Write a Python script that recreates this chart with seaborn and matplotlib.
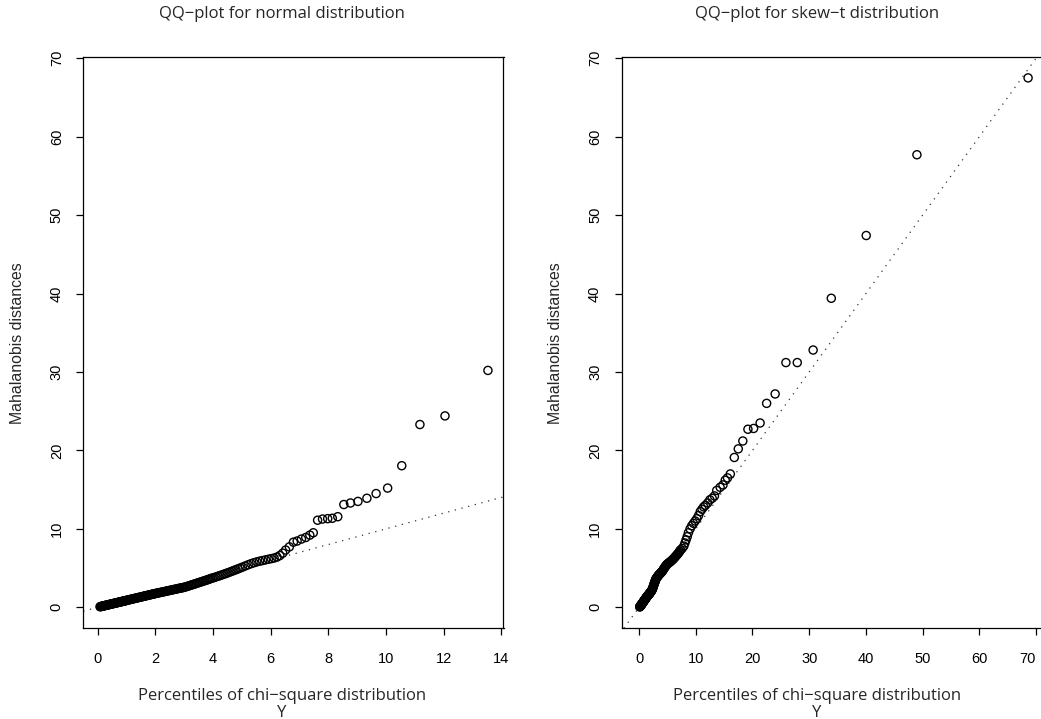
import matplotlib
matplotlib.use("Agg")
import matplotlib.pyplot as plt
import seaborn as sns
import pandas as pd

# ---------------- data ----------------
normal_x = [0.08,0.10,0.12,0.14,0.16,0.18,0.20,0.22,0.24,0.26,0.28,0.30,0.32,0.34,0.36,0.38,0.40,0.42,0.44,0.46,
            0.48,0.50,0.52,0.54,0.56,0.58,0.60,0.62,0.64,0.66,0.68,0.70,0.72,0.74,0.76,0.78,0.80,0.82,0.84,0.86,
            0.88,0.90,0.92,0.94,0.96,0.98,
            1.00,1.03,1.06,1.09,1.12,1.15,1.18,1.21,1.24,1.27,1.30,1.33,1.36,1.39,1.42,1.45,1.48,1.51,1.54,1.57,
            1.60,1.63,1.66,1.69,1.72,1.75,1.78,1.81,1.84,1.87,1.90,1.93,1.96,1.99,
            2.02,2.06,2.10,2.14,2.18,2.22,2.26,2.30,2.34,2.38,2.42,2.46,2.50,2.54,2.58,2.62,2.66,2.70,2.74,2.78,
            2.82,2.86,2.90,2.94,2.98,
            3.02,3.07,3.12,3.17,3.22,3.27,3.32,3.37,3.42,3.47,3.52,3.57,3.62,3.67,3.72,3.77,3.82,3.87,3.92,3.97,
            4.03,4.10,4.17,4.24,4.31,4.38,4.45,4.52,4.59,4.66,4.73,4.80,4.87,4.94,
            5.02,5.12,5.22,5.32,5.42,5.52,5.62,5.72,5.82,5.92,6.02,6.12,6.22,6.32,6.42,6.52,
            6.65,6.79,6.92,7.07,7.22,7.36,7.48,7.63,7.80,7.98,8.14,8.33,8.54,8.77,9.03,9.34,9.66,10.06,10.55,
            11.18,12.05,13.54]
normal_y = [0.07,0.09,0.10,0.12,0.14,0.16,0.18,0.19,0.21,0.23,0.25,0.26,0.28,0.30,0.32,0.33,0.35,0.37,0.39,0.40,
            0.42,0.44,0.46,0.47,0.49,0.51,0.53,0.54,0.56,0.58,0.60,0.61,0.63,0.65,0.67,0.68,0.70,0.72,0.74,0.75,
            0.77,0.79,0.81,0.82,0.84,0.86,
            0.88,0.91,0.93,0.96,0.99,1.01,1.04,1.06,1.09,1.12,1.14,1.17,1.20,1.22,1.25,1.27,1.30,1.33,1.35,1.38,
            1.41,1.43,1.46,1.48,1.51,1.54,1.56,1.59,1.62,1.64,1.67,1.69,1.72,1.75,
            1.77,1.80,1.83,1.86,1.90,1.93,1.96,1.99,2.02,2.06,2.09,2.12,2.15,2.18,2.22,2.25,2.28,2.31,2.34,2.38,
            2.41,2.44,2.47,2.50,2.53,
            2.57,2.62,2.68,2.74,2.80,2.86,2.92,2.98,3.04,3.10,3.16,3.22,3.28,3.34,3.40,3.46,3.52,3.59,3.66,3.72,
            3.78,3.87,3.95,4.04,4.13,4.22,4.31,4.40,4.50,4.60,4.70,4.80,4.90,5.00,
            5.12,5.27,5.42,5.56,5.68,5.79,5.88,5.96,6.04,6.12,6.20,6.28,6.40,6.60,6.90,7.30,
            7.70,8.30,8.45,8.70,8.90,9.20,9.50,11.10,11.25,11.30,11.35,11.55,13.10,13.30,13.50,13.90,14.50,15.20,18.05,
            23.30,24.40,30.20]

skew_x = [0.12,0.16,0.20,0.24,0.28,0.32,0.36,0.40,0.44,0.48,0.52,0.56,0.60,0.64,0.68,0.72,0.76,0.80,0.84,0.88,
          0.92,0.96,1.00,
          1.05,1.10,1.15,1.20,1.25,1.30,1.35,1.40,1.45,1.50,1.55,1.60,1.65,1.70,1.75,1.80,1.85,1.90,1.95,2.00,
          2.05,2.10,2.15,2.20,2.25,2.30,2.35,2.40,2.45,2.50,2.55,2.60,2.65,2.70,2.75,2.80,2.85,2.90,2.95,3.00,
          3.08,3.16,3.24,3.32,3.40,3.48,3.56,3.64,3.72,3.80,3.88,3.96,
          4.06,4.16,4.26,4.36,4.46,4.56,4.66,4.76,4.86,4.96,
          5.08,5.22,5.36,5.50,5.64,5.78,5.92,6.06,6.20,6.34,6.48,6.62,6.76,6.90,7.04,7.18,
          7.3,7.6,7.9,8.1,8.3,8.5,8.7,9.0,9.3,9.6,9.9,10.2,10.5,10.8,11.1,11.4,11.7,12.1,12.5,12.9,
          13.3,13.7,14.3,14.8,15.2,15.6,16.1,16.8,17.5,18.3,19.2,20.2,21.35,22.5,24.0,25.9,27.9,30.7,
          33.9,40.06,49.0,68.6]
skew_y = [0.04,0.08,0.12,0.16,0.20,0.24,0.28,0.32,0.36,0.40,0.44,0.48,0.52,0.56,0.60,0.65,0.69,0.73,0.78,0.82,
          0.86,0.91,0.95,
          1.00,1.05,1.10,1.15,1.20,1.25,1.30,1.35,1.40,1.45,1.49,1.53,1.58,1.62,1.66,1.71,1.75,1.80,1.85,1.90,
          1.95,2.00,2.05,2.10,2.16,2.23,2.31,2.40,2.50,2.61,2.72,2.83,2.94,3.05,3.15,3.25,3.35,3.45,3.55,3.63,
          3.72,3.80,3.88,3.96,4.04,4.11,4.18,4.24,4.30,4.36,4.42,4.48,
          4.56,4.66,4.78,4.90,5.01,5.11,5.21,5.31,5.40,5.49,
          5.57,5.65,5.72,5.80,5.89,5.98,6.07,6.17,6.28,6.40,6.52,6.63,6.75,6.88,7.00,7.15,
          7.3,7.5,7.8,8.2,8.6,9.0,9.5,10.0,10.4,10.7,11.0,11.3,11.7,12.2,12.5,12.8,13.0,13.3,13.7,13.9,
          14.2,14.9,15.3,15.6,16.2,16.5,17.0,19.1,20.2,21.2,22.7,22.8,23.5,26.0,27.2,31.2,31.2,32.8,
          39.4,47.4,57.7,67.5]

left_xticks = [0, 2, 4, 6, 8, 10, 12, 14]
right_xticks = [0, 10, 20, 30, 40, 50, 60, 70]
yticks = [0, 10, 20, 30, 40, 50, 60, 70]

titles = ["QQ\u2212plot for normal distribution", "QQ\u2212plot for skew\u2212t distribution"]
xlab = "Percentiles of chi\u2212square distribution"
ylab = "Mahalanobis distances"

# ---------------- style ----------------
sns.set_theme(style="ticks")
plt.rcParams.update({
    "font.family": ["Liberation Sans", "DejaVu Sans"],
    "axes.edgecolor": "black",
    "axes.linewidth": 0.9,
    "xtick.color": "black",
    "ytick.color": "black",
    "xtick.major.size": 5,
    "ytick.major.size": 5,
    "xtick.major.width": 0.9,
    "ytick.major.width": 0.9,
    "xtick.labelsize": 10.5,
    "ytick.labelsize": 10.5,
})
title_font = ["Open Sans", "DejaVu Sans"]

fig = plt.figure(figsize=(10.41, 7.19), dpi=100)
W, H = 1041.0, 719.0
ax1 = fig.add_axes([83.3 / W, 1 - 628.3 / H, 420.2 / W, 571.6 / H])
ax2 = fig.add_axes([621.5 / W, 1 - 628.3 / H, 420.2 / W, 571.6 / H])

df1 = pd.DataFrame({"x": normal_x, "y": normal_y})
df2 = pd.DataFrame({"x": skew_x, "y": skew_y})

for ax, df, xt, xl, title, tx, ylx in [
    (ax1, df1, left_xticks, (-0.5, 14.08), titles[0], 282, 18),
    (ax2, df2, right_xticks, (-3.09, 71.0), titles[1], 817, 556),
]:
    sns.scatterplot(data=df, x="x", y="y", ax=ax, marker="o", s=34,
                    facecolor="none", edgecolor="black", linewidth=1.0, zorder=3)
    ax.axline((0, 0), slope=1, color="#333333", linestyle=(0, (1, 4.5)), linewidth=0.9, zorder=2)
    ax.set_xlim(*xl)
    ax.set_ylim(-2.68, 70.2)
    ax.set_xticks(xt)
    ax.set_xticklabels([str(v) for v in xt])
    ax.set_yticks(yticks)
    ax.set_yticklabels([str(v) for v in yticks], rotation=90, va="center")
    ax.tick_params(axis="x", pad=12)
    ax.tick_params(axis="y", pad=9)
    ax.set_xlabel("")
    ax.set_ylabel("")
    for s in ax.spines.values():
        s.set_visible(True)
        s.set_color("black")
    fig.text(tx / W, 1 - 14 / H, title, ha="center", va="center", fontsize=12, family=title_font)
    fig.text(tx / W, 1 - 696 / H, xlab, ha="center", va="center", fontsize=12, family=title_font)
    fig.text(tx / W, 1 - 713 / H, "Y", ha="center", va="center", fontsize=12, family=title_font)
    fig.text(ylx / W, 1 - 343 / H, ylab, ha="center", va="center", rotation=90, fontsize=11.4)

# keep the last tick label of the right panel inside the picture, as in the reference
ax2.get_xticklabels()[-1].set_horizontalalignment("right")

fig.savefig("out.png", dpi=100)
